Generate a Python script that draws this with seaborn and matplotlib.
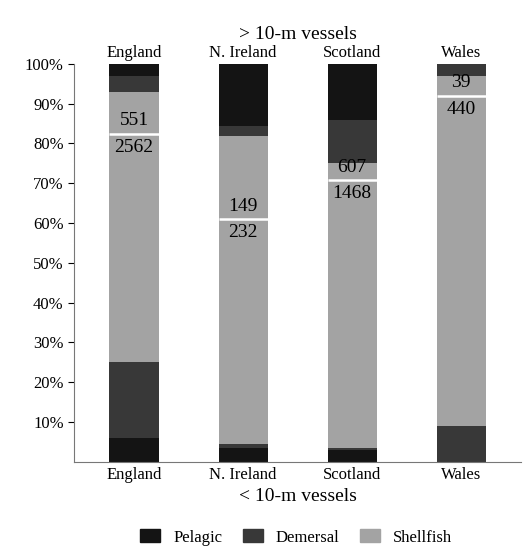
import matplotlib
matplotlib.use("Agg")
import matplotlib.pyplot as plt
import seaborn as sns
import numpy as np
import pandas as pd

countries = ["England", "N. Ireland", "Scotland", "Wales"]
# percent of all vessels, <10-m segments then >10-m segments
small_pelagic = [6, 3.5, 3, 0]
small_demersal = [19, 1, 0.5, 9]
small_shellfish = [57.3, 56.4, 67.2, 82.9]
large_shellfish = [10.7, 21, 4.3, 5]
large_demersal = [4, 2.5, 11, 3.1]
large_pelagic = [3, 15.6, 14, 0]
small_counts = [2562, 232, 1468, 440]
large_counts = [551, 149, 607, 39]

pel, dem, shell = "#141414", "#383838", "#a3a3a3"
segs = [small_pelagic, small_demersal, small_shellfish, large_shellfish, large_demersal, large_pelagic]
cols = [pel, dem, shell, shell, dem, pel]
cum = np.cumsum(np.array(segs), axis=0)

sns.set_style("white")
plt.rcParams["font.family"] = ["Liberation Serif", "DejaVu Serif"]
plt.rcParams["text.color"] = "black"
plt.rcParams["xtick.color"] = "black"
plt.rcParams["ytick.color"] = "black"
plt.rcParams["axes.labelcolor"] = "black"
fig, ax = plt.subplots(figsize=(5.29, 5.55), dpi=100)
fig.subplots_adjust(left=0.14, right=0.985, top=0.885, bottom=0.168)

w = 0.45
for i in range(len(segs) - 1, -1, -1):
    df = pd.DataFrame({"c": countries, "v": cum[i]})
    sns.barplot(data=df, x="c", y="v", color=cols[i], width=w, ax=ax, saturation=1,
                linewidth=0, edgecolor="none")

split = cum[2]
ax.hlines(split, np.arange(4) - w / 2, np.arange(4) + w / 2, colors="white", lw=1.8, zorder=5)
for i in range(4):
    ax.text(i, split[i] + 1.2, str(large_counts[i]), ha="center", va="bottom", fontsize=14, zorder=6)
    ax.text(i, split[i] - 1.2, str(small_counts[i]), ha="center", va="top", fontsize=14, zorder=6)

ax.set_ylim(0, 100)
ax.set_xlim(-0.55, 3.55)
ax.set_yticks(range(10, 101, 10))
ax.set_yticklabels([f"{t}%" for t in range(10, 101, 10)], fontsize=12)
ax.set_xlabel("< 10-m vessels", fontsize=14, labelpad=4)
ax.set_ylabel("")
ax.tick_params(axis="x", labelsize=12, length=0)
ax.tick_params(axis="y", length=4, left=True)
for s in ["top", "right"]:
    ax.spines[s].set_visible(False)
for s in ["left", "bottom"]:
    ax.spines[s].set_color("#777")

ax2 = ax.secondary_xaxis("top")
ax2.set_xticks(range(4))
ax2.set_xticklabels(countries, fontsize=12)
ax2.tick_params(length=0, pad=2)
ax2.spines["top"].set_visible(False)
ax2.set_xlabel("> 10-m vessels", fontsize=14, labelpad=4)

from matplotlib.patches import Patch
h = [Patch(color=pel, label="Pelagic"), Patch(color=dem, label="Demersal"), Patch(color=shell, label="Shellfish")]
fig.legend(handles=h, loc="lower center", ncol=3, frameon=False, fontsize=12,
           bbox_to_anchor=(0.56, -0.01), handlelength=1.2, handleheight=0.8, columnspacing=1.2)
fig.savefig("out.png", dpi=100)
